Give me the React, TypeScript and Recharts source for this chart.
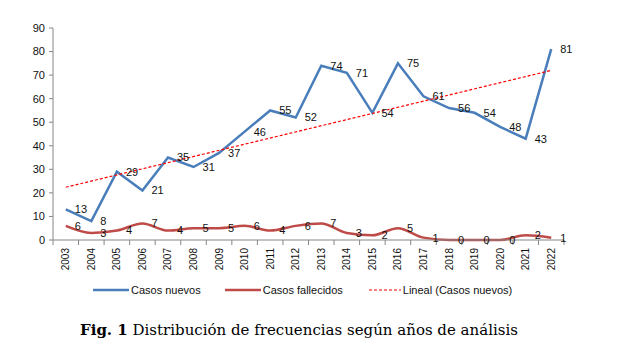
import React from 'react';
import { ComposedChart, Line, XAxis, YAxis, Legend, LabelList } from 'recharts';

const years = ['2003','2004','2005','2006','2007','2008','2009','2010','2011','2012','2013','2014','2015','2016','2017','2018','2019','2020','2021','2022'];
const casosNuevos = [13, 8, 29, 21, 35, 31, 37, 46, 55, 52, 74, 71, 54, 75, 61, 56, 54, 48, 43, 81];
const casosFallecidos = [6, 3, 4, 7, 4, 5, 5, 6, 4, 6, 7, 3, 2, 5, 1, 0, 0, 0, 2, 1];
// trend line endpoints
const tendencia: (number | null)[] = [22.4, null, null, null, null, null, null, null, null, null, null, null, null, null, null, null, null, null, null, 72.0];
const yTicks = [0, 10, 20, 30, 40, 50, 60, 70, 80, 90];
const seriesNames = ['Casos nuevos', 'Casos fallecidos', 'Lineal (Casos nuevos)'];

const data = years.map((y, i) => ({
  year: y,
  nuevos: casosNuevos[i],
  fallecidos: casosFallecidos[i],
  trend: tendencia[i],
}));

const FONT = '"Liberation Sans", Arial, sans-serif';

const XTick = (props: any) => {
  const { x, y, payload, index } = props;
  const off = payload.offset ?? 0;
  const last = index === years.length - 1;
  return (
    <g>
      <line x1={x - off} y1={y} x2={x - off} y2={y + 5} stroke="#868686" />
      {last && <line x1={x + off} y1={y} x2={x + off} y2={y + 5} stroke="#868686" />}
      <text
        x={x}
        y={y + 8}
        transform={`rotate(-90, ${x}, ${y + 8})`}
        textAnchor="end"
        dominantBaseline="central"
        fontSize={10}
        fill="#111"
        fontFamily={FONT}
      >
        {payload.value}
      </text>
    </g>
  );
};

const LegendContent = (props: any) => {
  const payload = [...(props.payload || [])].sort(
    (a: any, b: any) => seriesNames.indexOf(a.value) - seriesNames.indexOf(b.value)
  );
  const widths = [36, 36, 32];
  const gaps = [24, 26, 0];
  return (
    <div style={{ display: 'flex', alignItems: 'center', height: 20, paddingLeft: 93, fontFamily: FONT, fontSize: 11, color: '#111' }}>
      {payload.map((p: any, i: number) => (
        <div key={i} style={{ display: 'flex', alignItems: 'center', marginRight: gaps[i] ?? 20 }}>
          <svg width={widths[i] ?? 34} height={10} style={{ display: 'block' }}>
            <line
              x1={0}
              y1={5}
              x2={widths[i] ?? 34}
              y2={5}
              stroke={p.color}
              strokeWidth={p.payload?.strokeDasharray ? 1.2 : 2.5}
              strokeDasharray={p.payload?.strokeDasharray}
            />
          </svg>
          <span style={{ marginLeft: 2, whiteSpace: 'nowrap' }}>{p.value}</span>
        </div>
      ))}
    </div>
  );
};

export default function App() {
  return (
    <div style={{ position: 'absolute', left: 0, top: 0, width: 617, height: 349, background: '#fff' }}>
      <ComposedChart
        width={617}
        height={305}
        data={data}
        margin={{ top: 28, right: 53, left: 0, bottom: 5 }}
        style={{ fontFamily: FONT }}
      >
        <XAxis
          dataKey="year"
          scale="band"
          height={40}
          interval={0}
          tickSize={0}
          tickMargin={0}
          tickLine={false}
          stroke="#868686"
          tick={<XTick />}
        />
        <YAxis
          width={53}
          domain={[0, 90]}
          ticks={yTicks}
          interval={0}
          tickSize={4}
          tickMargin={4}
          stroke="#868686"
          tick={{ fontSize: 11, fill: '#111', fontFamily: FONT }}
        />
        <Line
          dataKey="nuevos"
          name="Casos nuevos"
          type="linear"
          stroke="#4A7EBB"
          strokeWidth={2.5}
          dot={false}
          isAnimationActive={false}
        >
          <LabelList dataKey="nuevos" position="right" offset={9} style={{ fontSize: 11, fill: '#111', fontFamily: FONT }} />
        </Line>
        <Line
          dataKey="fallecidos"
          name="Casos fallecidos"
          type="monotone"
          stroke="#BE4B48"
          strokeWidth={2.5}
          dot={false}
          isAnimationActive={false}
        >
          <LabelList dataKey="fallecidos" position="right" offset={9} style={{ fontSize: 11, fill: '#111', fontFamily: FONT }} />
        </Line>
        <Line
          dataKey="trend"
          name="Lineal (Casos nuevos)"
          type="linear"
          stroke="#FF0000"
          strokeWidth={1.2}
          strokeDasharray="3 2"
          connectNulls
          dot={false}
          activeDot={false}
          isAnimationActive={false}
        />
        <Legend verticalAlign="bottom" align="left" wrapperStyle={{ left: 0, width: 617 }} content={<LegendContent />} />
      </ComposedChart>
      <div
        style={{
          position: 'absolute',
          left: 0,
          top: 321,
          width: 598,
          textAlign: 'center',
          fontFamily: '"DejaVu Serif", "Liberation Serif", serif',
          fontSize: 15,
          color: '#000',
          whiteSpace: 'nowrap',
        }}
      >
        <b>Fig. 1</b> Distribución de frecuencias según años de análisis
      </div>
    </div>
  );
}
